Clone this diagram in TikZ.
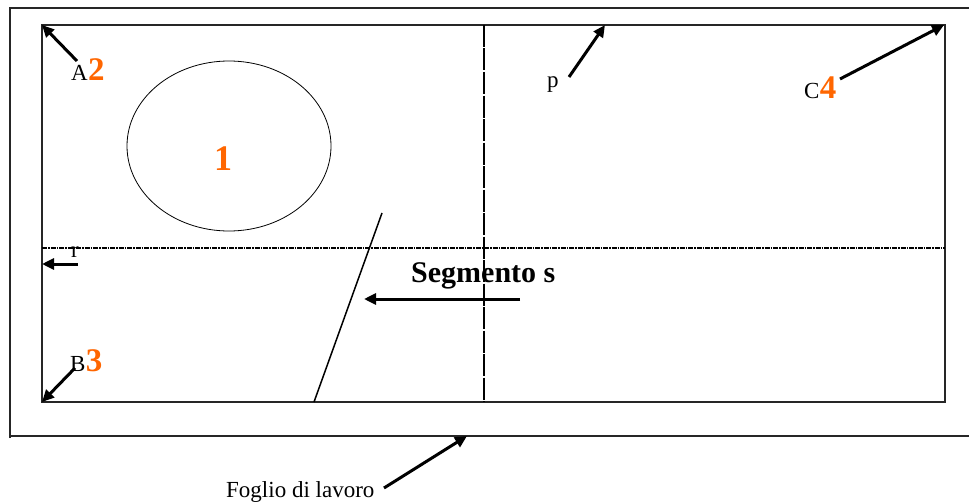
\documentclass[tikz,border=0pt]{standalone}
\usepackage{fontspec}
\setmainfont{Liberation Serif}
\usetikzlibrary{arrows.meta}
\definecolor{numorange}{RGB}{255,102,0}
\begin{document}
\begin{tikzpicture}[x=1pt,y=-1pt,
  frame/.style={line width=1.4pt, black!85},
  pointer/.style={line width=3pt, -{Triangle[length=12pt,width=11pt]}},
  lbl/.style={font=\fontsize{23}{23}\selectfont, inner sep=0pt},
  big/.style={font=\fontsize{30}{30}\selectfont\bfseries, inner sep=0pt},
  num/.style={font=\fontsize{33}{33}\selectfont\bfseries, text=numorange, inner sep=0pt},
]
\useasboundingbox (0,0) rectangle (969,503);
\fill[white] (0,0) rectangle (969,503);
% outer sheet (Foglio di lavoro)
\draw[frame] (10,438) -- (10,8) -- (969,8);
\draw[frame] (10,436) -- (969,436);
\coordinate (sheet) at (467,436);
% inner rectangle
\draw[frame] (42,25) rectangle (945,402);
\coordinate (tl) at (42,25);
\coordinate (tr) at (944,25);
\coordinate (bl) at (42,402);
\coordinate (ptop) at (605,25);
\coordinate (rl) at (42,264);
% lines p and r
\draw[line width=2pt, dash pattern=on 22pt off 1.5pt] (484,25) -- (484,402);
\draw[line width=2.4pt, dash pattern=on 5pt off 1pt on 1.5pt off 1pt] (42,248) -- (945,248);
% circle 1
\draw[line width=0.8pt] (229,146) ellipse [x radius=102, y radius=85];
\node[num, font=\fontsize{36}{36}\selectfont\bfseries] (n1) at (223,159) {1};
% segment s
\coordinate (s1) at (382,213);
\coordinate (s2) at (314,402);
\draw[line width=1.5pt] (s1) -- (s2);
\node[big, anchor=base west] (seg) at (411,282) {Segmento s};
\coordinate (segstart) at (520,299);
\coordinate (segtip) at (364,299);
\draw[pointer] (segstart) -- (segtip);
% A2
\node[lbl, anchor=base west] (A) at (71,81) {A};
\node[num, anchor=base west] (n2) at (A.base east) {2};
\coordinate (Astart) at (77,61);
\draw[pointer] (Astart) -- (tl);
% r
\node[lbl, anchor=base west] (r) at (71,257) {r};
\coordinate (rstart) at (78,264);
\draw[pointer] (rstart) -- (rl);
% B3
\node[lbl, anchor=base west] (B) at (70,371) {B};
\node[num, anchor=base west] (n3) at (B.base east) {3};
\coordinate (Bstart) at (75,368);
\draw[pointer] (Bstart) -- (bl);
% p
\node[lbl, anchor=base west] (p) at (547,88) {p};
\coordinate (pstart) at (569,77);
\draw[pointer] (pstart) -- (ptop);
% C4
\node[lbl, anchor=base west] (C) at (804,98) {C};
\node[num, anchor=base west] (n4) at (C.base east) {4};
\coordinate (Cstart) at (840,79);
\draw[pointer] (Cstart) -- (tr);
% Foglio di lavoro
\node[lbl, anchor=base west] (fl) at (226,497) {Foglio di lavoro};
\coordinate (flstart) at (384,488);
\draw[pointer] (flstart) -- (sheet);
\end{tikzpicture}
\end{document}
